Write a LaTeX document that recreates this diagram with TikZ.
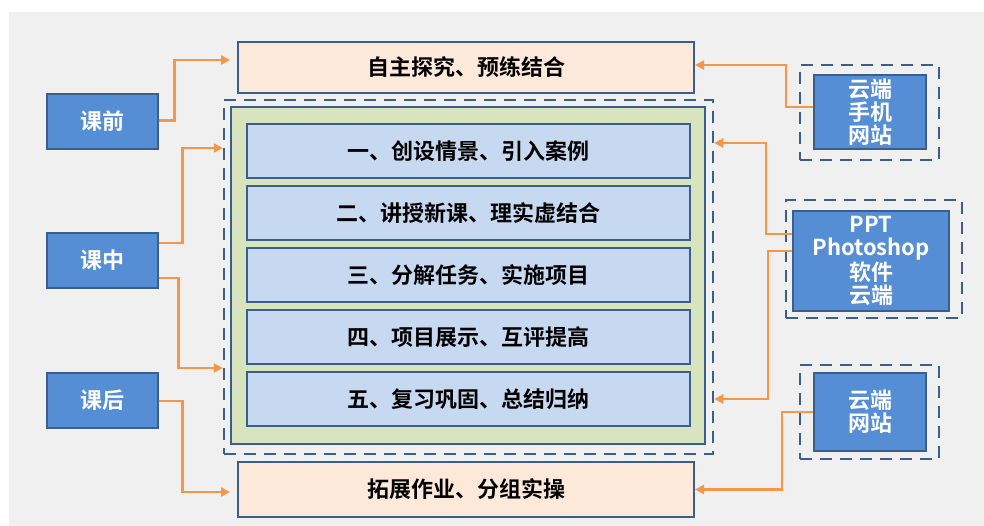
\documentclass[tikz,border=0pt]{standalone}
\usepackage{fontspec}
\newfontfamily\cjk{Noto Sans CJK SC Bold}
\usetikzlibrary{positioning,arrows.meta,calc}
\definecolor{frameblue}{HTML}{3A5F8C}
\definecolor{boxblue}{HTML}{558ED5}
\definecolor{peach}{HTML}{FDE9D9}
\definecolor{paleblue}{HTML}{C6D9F1}
\definecolor{palegreen}{HTML}{D7E4BD}
\definecolor{arrorange}{HTML}{F79646}
\definecolor{bggrey}{HTML}{F0F0F0}

\begin{document}
\begin{tikzpicture}[x=1pt,y=-1pt]
            \tikzset{
                lesson/.style={draw=frameblue,line width=2pt,fill=boxblue,text=white,inner sep=0pt,
                    minimum width=111pt,minimum height=55pt,font=\cjk\fontsize{22}{23}\selectfont},
                tool/.style={lesson,align=center,minimum width=112pt},
                goal/.style={draw=frameblue,line width=2pt,fill=peach,inner sep=0pt,
                    minimum width=456pt,font=\cjk\fontsize{22}{23}\selectfont},
                stepbox/.style={draw=frameblue,line width=2pt,fill=paleblue,inner sep=0pt,
                    minimum width=443pt,minimum height=54pt,font=\cjk\fontsize{22}{23}\selectfont},
                dashframe/.style={draw=frameblue,line width=2.5pt,dash pattern=on 12pt off 8pt,inner sep=0pt},
                flow/.style={draw=arrorange,line width=2.5pt,-{Triangle[length=9pt,width=9pt]}},}
            \useasboundingbox (0,0) rectangle (984,526);
            \fill [bggrey](9,12) rectangle (984,526);
            % stages on the left
            \node [lesson] (before) at (102,121.5) {课前};
            \node [lesson] (during) at (102,260.5) {课中};
            \node [lesson] (after) at (102,400.5) {课后};
            % goals before and after class
            \node [goal,minimum height=51pt] (top) at (466,67.5) {自主探究、预练结合};
            \node [goal,minimum height=55pt] (bottom) at (466,489.5) {拓展作业、分组实操};
            % the five steps in class
            \node [dashframe,minimum width=489pt,minimum height=354pt] (frame) at (468.5,277) {};
            \node [draw=frameblue,line width=2pt,fill=palegreen,minimum width=474pt,minimum height=337pt] (green) at (468,275.5) {};
            \foreach \t [count=\i] in {一、创设情景、引入案例,二、讲授新课、理实虚结合,三、分解任务、实施项目,四、项目展示、互评提高,五、复习巩固、总结归纳}
                \node [stepbox] (s\i) at (468.5,{89+62*\i}) {\t};
            % tools on the right
            \node [dashframe,minimum width=139pt,minimum height=95pt] (f1) at (869.5,112.5) {};
            \node [tool,minimum height=74pt] (res1) at (870,112) {云端\\手机\\网站};
            \node [dashframe,minimum width=176pt,minimum height=118pt] (f2) at (874,259) {};
            \node [tool,minimum width=156pt,minimum height=100pt] (res2) at (871,261) {PPT\\Photoshop\\软件\\云端};
            \node [dashframe,minimum width=139pt,minimum height=94pt] (f3) at (869.5,412) {};
            \node [tool,minimum height=78pt] (res3) at (870,412) {云端\\网站};
            % arrows
            \draw [flow] ([yshift=1pt]before.east) -- ++(16,0) |- ([shift={(-7,-7.5)}]top.west);
            \draw [flow] ([yshift=17.5pt]during.east) -- ++(24,0) |- ($(frame.west |- s1)+(0,-3)$);
            \draw [flow] ([yshift=-17.5pt]during.east) -- ++(20,0) |- ($(frame.west |- s4.south)!0.5!(frame.west |- s5.north)$);
            \draw [flow] ([yshift=-0.5pt]after.east) -- ++(24,0) |- ([shift={(-7,2.5)}]bottom.west);
            \draw [flow] ([yshift=5pt]res1.west) -- ++(-27,0) |- ([yshift=2.5pt]top.east);
            \draw [flow] ([yshift=27pt]res2.west) -- ++(-26,0) |- ($(frame.east |- s1)+(0,-8)$);
            \draw [flow] ([yshift=10pt]res2.west) -- ++(-24,0) |- (frame.east |- s5);
            \draw [flow] (res3.west) -- ++(-31,0) |- (bottom.east);
        \end{tikzpicture}
\end{document}
